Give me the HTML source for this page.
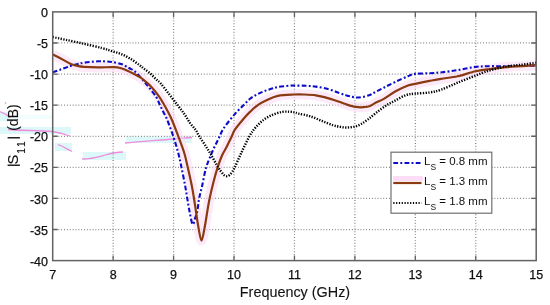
<!DOCTYPE html>
<html><head><meta charset="utf-8"><style>
html,body{margin:0;padding:0;background:#fff;width:550px;height:305px;overflow:hidden}
svg{display:block;filter:blur(0.45px);will-change:transform}
text{font-family:"Liberation Sans",sans-serif;fill:#111;stroke:#111;stroke-width:0.25px}
.ti text,text.tt{stroke-width:0.1px}
.lg text{stroke-width:0.0px}
</style></head><body>
<svg width="550" height="305" viewBox="0 0 550 305">

<g fill="#d4f7f7" opacity="0.8">
<rect x="0" y="112" width="9" height="9"/>
<rect x="9" y="115" width="44" height="4" opacity="0.4"/>
<rect x="0" y="127" width="71" height="7"/>
<rect x="55" y="143" width="17" height="8"/>
<rect x="83" y="152" width="43" height="8"/>
<rect x="126" y="136.5" width="66" height="6.5"/>
</g>
<g fill="none" stroke="#f07ad8" stroke-width="1.3" opacity="0.85">
<path d="M0,111.5 C4,113 7,115 10,117.5"/>
<path d="M8,129.5 C20,131 40,130 52,131.5 C60,132.5 64,134 70,136"/>
<path d="M58,144.5 C62,146 67,149 72,151.5"/>
<path d="M82,159 C92,159 98,157 105,155 C112,153 118,152 123,152"/>
<path d="M125,143 C150,141 170,139 192,137.5"/>
</g>
<circle cx="5.5" cy="103" r="0.8" fill="#f07ad8"/>

<g stroke="#808080" stroke-width="1.25" stroke-dasharray="0.9 1.95" fill="none">
<line x1="113.14" y1="11.90" x2="113.14" y2="260.60"/><line x1="173.58" y1="11.90" x2="173.58" y2="260.60"/><line x1="234.01" y1="11.90" x2="234.01" y2="260.60"/><line x1="294.45" y1="11.90" x2="294.45" y2="260.60"/><line x1="354.89" y1="11.90" x2="354.89" y2="260.60"/><line x1="415.33" y1="11.90" x2="415.33" y2="260.60"/><line x1="475.76" y1="11.90" x2="475.76" y2="260.60"/><line x1="52.70" y1="42.99" x2="536.20" y2="42.99"/><line x1="52.70" y1="74.08" x2="536.20" y2="74.08"/><line x1="52.70" y1="105.16" x2="536.20" y2="105.16"/><line x1="52.70" y1="136.25" x2="536.20" y2="136.25"/><line x1="52.70" y1="167.34" x2="536.20" y2="167.34"/><line x1="52.70" y1="198.43" x2="536.20" y2="198.43"/><line x1="52.70" y1="229.51" x2="536.20" y2="229.51"/>
</g>
<g fill="none" stroke-linejoin="round">
<path d="M52.90,54.60 C54.28,55.28 58.30,57.17 61.20,58.70 C64.10,60.23 67.67,62.62 70.30,63.80 C72.93,64.98 74.72,65.28 77.00,65.80 C79.28,66.32 80.50,66.63 84.00,66.90 C87.50,67.17 93.00,67.37 98.00,67.40 C103.00,67.43 110.13,66.95 114.00,67.10 C117.87,67.25 118.87,67.67 121.20,68.30 C123.53,68.93 125.78,69.92 128.00,70.90 C130.22,71.88 132.38,73.07 134.50,74.20 C136.62,75.33 139.05,76.62 140.70,77.70 C142.35,78.78 142.68,79.23 144.40,80.70 C146.12,82.17 148.52,83.82 151.00,86.50 C153.48,89.18 157.07,93.67 159.30,96.80 C161.53,99.93 162.37,101.60 164.40,105.30 C166.43,109.00 169.20,113.87 171.50,119.00 C173.80,124.13 176.08,130.47 178.20,136.10 C180.32,141.73 182.60,147.57 184.20,152.80 C185.80,158.03 186.53,162.02 187.80,167.50 C189.07,172.98 190.77,180.53 191.80,185.70 C192.83,190.87 193.27,193.95 194.00,198.50 C194.73,203.05 195.50,208.42 196.20,213.00 C196.90,217.58 197.32,221.40 198.20,226.00 C199.08,230.60 200.38,240.60 201.50,240.60 C202.62,240.60 203.95,230.77 204.90,226.00 C205.85,221.23 206.42,216.58 207.20,212.00 C207.98,207.42 208.55,203.50 209.60,198.50 C210.65,193.50 212.15,187.22 213.50,182.00 C214.85,176.78 216.30,171.58 217.70,167.20 C219.10,162.82 220.42,159.08 221.90,155.70 C223.38,152.32 224.97,150.10 226.60,146.90 C228.23,143.70 230.32,139.37 231.70,136.50 C233.08,133.63 232.88,132.70 234.90,129.70 C236.92,126.70 241.28,121.47 243.80,118.50 C246.32,115.53 247.72,114.10 250.00,111.90 C252.28,109.70 254.58,107.32 257.50,105.30 C260.42,103.28 264.08,101.38 267.50,99.80 C270.92,98.22 273.58,96.68 278.00,95.80 C282.42,94.92 289.67,94.72 294.00,94.50 C298.33,94.28 300.35,94.37 304.00,94.50 C307.65,94.63 312.23,94.78 315.90,95.30 C319.57,95.82 322.98,96.82 326.00,97.60 C329.02,98.38 331.33,99.13 334.00,100.00 C336.67,100.87 339.33,101.87 342.00,102.80 C344.67,103.73 347.33,104.87 350.00,105.60 C352.67,106.33 355.73,106.93 358.00,107.20 C360.27,107.47 361.60,107.40 363.60,107.20 C365.60,107.00 367.93,106.77 370.00,106.00 C372.07,105.23 373.70,103.78 376.00,102.60 C378.30,101.42 380.53,100.78 383.80,98.90 C387.07,97.02 391.57,93.53 395.60,91.30 C399.63,89.07 404.73,86.75 408.00,85.50 C411.27,84.25 411.60,84.57 415.20,83.80 C418.80,83.03 425.30,81.73 429.60,80.90 C433.90,80.07 436.32,79.57 441.00,78.80 C445.68,78.03 451.97,77.55 457.70,76.30 C463.43,75.05 470.02,72.52 475.40,71.30 C480.78,70.08 484.90,69.70 490.00,69.00 C495.10,68.30 498.30,67.73 506.00,67.10 C513.70,66.47 531.17,65.52 536.20,65.20" stroke="#fcd8f4" stroke-width="10" opacity="0.55"/>
<path d="M52.70,72.20 C54.12,71.72 58.27,70.32 61.20,69.30 C64.13,68.28 67.67,66.93 70.30,66.10 C72.93,65.27 74.72,64.87 77.00,64.30 C79.28,63.73 80.50,63.20 84.00,62.70 C87.50,62.20 94.33,61.52 98.00,61.30 C101.67,61.08 103.67,61.28 106.00,61.40 C108.33,61.52 109.47,61.57 112.00,62.00 C114.53,62.43 118.37,63.00 121.20,64.00 C124.03,65.00 126.72,66.75 129.00,68.00 C131.28,69.25 132.95,69.92 134.90,71.50 C136.85,73.08 138.85,75.45 140.70,77.50 C142.55,79.55 144.52,82.02 146.00,83.80 C147.48,85.58 147.92,86.03 149.60,88.20 C151.28,90.37 154.35,93.95 156.10,96.80 C157.85,99.65 158.87,102.72 160.10,105.30 C161.33,107.88 162.35,109.95 163.50,112.30 C164.65,114.65 165.38,115.43 167.00,119.40 C168.62,123.37 171.33,130.53 173.20,136.10 C175.07,141.67 176.82,147.57 178.20,152.80 C179.58,158.03 180.37,162.13 181.50,167.50 C182.63,172.87 184.03,179.83 185.00,185.00 C185.97,190.17 186.52,193.95 187.30,198.50 C188.08,203.05 188.82,208.00 189.70,212.30 C190.58,216.60 191.68,223.37 192.60,224.30 C193.52,225.23 194.38,220.28 195.20,217.90 C196.02,215.52 196.85,213.23 197.50,210.00 C198.15,206.77 198.32,202.58 199.10,198.50 C199.88,194.42 201.05,190.58 202.20,185.50 C203.35,180.42 204.55,173.07 206.00,168.00 C207.45,162.93 209.45,158.68 210.90,155.10 C212.35,151.52 213.37,149.35 214.70,146.50 C216.03,143.65 217.55,140.80 218.90,138.00 C220.25,135.20 221.03,132.62 222.80,129.70 C224.57,126.78 227.18,123.45 229.50,120.50 C231.82,117.55 234.37,114.55 236.70,112.00 C239.03,109.45 241.28,107.40 243.50,105.20 C245.72,103.00 247.73,100.60 250.00,98.80 C252.27,97.00 254.73,95.67 257.10,94.40 C259.47,93.13 261.83,92.13 264.20,91.20 C266.57,90.27 269.00,89.50 271.30,88.80 C273.60,88.10 274.92,87.52 278.00,87.00 C281.08,86.48 287.10,85.93 289.80,85.70 C292.50,85.47 291.50,85.58 294.20,85.60 C296.90,85.62 302.38,85.63 306.00,85.80 C309.62,85.97 312.25,86.07 315.90,86.60 C319.55,87.13 324.13,87.98 327.90,89.00 C331.67,90.02 335.40,91.63 338.50,92.70 C341.60,93.77 344.25,94.72 346.50,95.40 C348.75,96.08 350.25,96.45 352.00,96.80 C353.75,97.15 355.20,97.48 357.00,97.50 C358.80,97.52 360.77,97.28 362.80,96.90 C364.83,96.52 367.33,95.88 369.20,95.20 C371.07,94.52 371.57,94.05 374.00,92.80 C376.43,91.55 380.20,89.53 383.80,87.70 C387.40,85.87 391.57,83.72 395.60,81.80 C399.63,79.88 404.73,77.52 408.00,76.20 C411.27,74.88 411.60,74.40 415.20,73.90 C418.80,73.40 425.13,73.47 429.60,73.20 C434.07,72.93 437.32,72.82 442.00,72.30 C446.68,71.78 452.13,71.00 457.70,70.10 C463.27,69.20 470.02,67.55 475.40,66.90 C480.78,66.25 484.90,66.32 490.00,66.20 C495.10,66.08 498.30,66.30 506.00,66.20 C513.70,66.10 531.17,65.70 536.20,65.60" stroke="#0c0cc8" stroke-width="2.1" stroke-dasharray="4.8 2.25 1.9 2.25"/>
<path d="M52.90,54.60 C54.28,55.28 58.30,57.17 61.20,58.70 C64.10,60.23 67.67,62.62 70.30,63.80 C72.93,64.98 74.72,65.28 77.00,65.80 C79.28,66.32 80.50,66.63 84.00,66.90 C87.50,67.17 93.00,67.37 98.00,67.40 C103.00,67.43 110.13,66.95 114.00,67.10 C117.87,67.25 118.87,67.67 121.20,68.30 C123.53,68.93 125.78,69.92 128.00,70.90 C130.22,71.88 132.38,73.07 134.50,74.20 C136.62,75.33 139.05,76.62 140.70,77.70 C142.35,78.78 142.68,79.23 144.40,80.70 C146.12,82.17 148.52,83.82 151.00,86.50 C153.48,89.18 157.07,93.67 159.30,96.80 C161.53,99.93 162.37,101.60 164.40,105.30 C166.43,109.00 169.20,113.87 171.50,119.00 C173.80,124.13 176.08,130.47 178.20,136.10 C180.32,141.73 182.60,147.57 184.20,152.80 C185.80,158.03 186.53,162.02 187.80,167.50 C189.07,172.98 190.77,180.53 191.80,185.70 C192.83,190.87 193.27,193.95 194.00,198.50 C194.73,203.05 195.50,208.42 196.20,213.00 C196.90,217.58 197.32,221.40 198.20,226.00 C199.08,230.60 200.38,240.60 201.50,240.60 C202.62,240.60 203.95,230.77 204.90,226.00 C205.85,221.23 206.42,216.58 207.20,212.00 C207.98,207.42 208.55,203.50 209.60,198.50 C210.65,193.50 212.15,187.22 213.50,182.00 C214.85,176.78 216.30,171.58 217.70,167.20 C219.10,162.82 220.42,159.08 221.90,155.70 C223.38,152.32 224.97,150.10 226.60,146.90 C228.23,143.70 230.32,139.37 231.70,136.50 C233.08,133.63 232.88,132.70 234.90,129.70 C236.92,126.70 241.28,121.47 243.80,118.50 C246.32,115.53 247.72,114.10 250.00,111.90 C252.28,109.70 254.58,107.32 257.50,105.30 C260.42,103.28 264.08,101.38 267.50,99.80 C270.92,98.22 273.58,96.68 278.00,95.80 C282.42,94.92 289.67,94.72 294.00,94.50 C298.33,94.28 300.35,94.37 304.00,94.50 C307.65,94.63 312.23,94.78 315.90,95.30 C319.57,95.82 322.98,96.82 326.00,97.60 C329.02,98.38 331.33,99.13 334.00,100.00 C336.67,100.87 339.33,101.87 342.00,102.80 C344.67,103.73 347.33,104.87 350.00,105.60 C352.67,106.33 355.73,106.93 358.00,107.20 C360.27,107.47 361.60,107.40 363.60,107.20 C365.60,107.00 367.93,106.77 370.00,106.00 C372.07,105.23 373.70,103.78 376.00,102.60 C378.30,101.42 380.53,100.78 383.80,98.90 C387.07,97.02 391.57,93.53 395.60,91.30 C399.63,89.07 404.73,86.75 408.00,85.50 C411.27,84.25 411.60,84.57 415.20,83.80 C418.80,83.03 425.30,81.73 429.60,80.90 C433.90,80.07 436.32,79.57 441.00,78.80 C445.68,78.03 451.97,77.55 457.70,76.30 C463.43,75.05 470.02,72.52 475.40,71.30 C480.78,70.08 484.90,69.70 490.00,69.00 C495.10,68.30 498.30,67.73 506.00,67.10 C513.70,66.47 531.17,65.52 536.20,65.20" stroke="#8a3a10" stroke-width="2.2"/>
<path d="M52.70,37.00 C54.92,37.48 60.78,38.77 66.00,39.90 C71.22,41.03 78.00,42.43 84.00,43.80 C90.00,45.17 97.33,46.87 102.00,48.10 C106.67,49.33 108.80,50.20 112.00,51.20 C115.20,52.20 118.15,52.85 121.20,54.10 C124.25,55.35 127.28,56.88 130.30,58.70 C133.32,60.52 137.02,63.32 139.30,65.00 C141.58,66.68 142.22,67.43 144.00,68.80 C145.78,70.17 148.03,71.50 150.00,73.20 C151.97,74.90 154.02,77.28 155.80,79.00 C157.58,80.72 158.50,81.00 160.70,83.50 C162.90,86.00 166.18,90.38 169.00,94.00 C171.82,97.62 175.05,101.87 177.60,105.20 C180.15,108.53 182.25,111.05 184.30,114.00 C186.35,116.95 188.03,120.28 189.90,122.90 C191.77,125.52 193.92,127.43 195.50,129.70 C197.08,131.97 197.82,133.95 199.40,136.50 C200.98,139.05 203.08,142.00 205.00,145.00 C206.92,148.00 208.72,150.78 210.90,154.50 C213.08,158.22 216.33,164.38 218.10,167.30 C219.87,170.22 220.47,170.68 221.50,172.00 C222.53,173.32 223.42,174.50 224.30,175.20 C225.18,175.90 225.97,176.20 226.80,176.20 C227.63,176.20 228.43,175.87 229.30,175.20 C230.17,174.53 231.08,173.52 232.00,172.20 C232.92,170.88 233.30,170.42 234.80,167.30 C236.30,164.18 238.58,158.63 241.00,153.50 C243.42,148.37 246.88,140.83 249.30,136.50 C251.72,132.17 253.08,130.30 255.50,127.50 C257.92,124.70 260.90,121.83 263.80,119.70 C266.70,117.57 269.85,116.00 272.90,114.70 C275.95,113.40 279.35,112.40 282.10,111.90 C284.85,111.40 287.30,111.62 289.40,111.70 C291.50,111.78 293.17,112.08 294.70,112.40 C296.23,112.72 296.07,112.97 298.60,113.60 C301.13,114.23 306.02,114.98 309.90,116.20 C313.78,117.42 318.05,119.40 321.90,120.90 C325.75,122.40 329.90,124.20 333.00,125.20 C336.10,126.20 338.12,126.52 340.50,126.90 C342.88,127.28 344.95,127.55 347.30,127.50 C349.65,127.45 352.32,127.17 354.60,126.60 C356.88,126.03 358.77,125.30 361.00,124.10 C363.23,122.90 365.53,121.23 368.00,119.40 C370.47,117.57 372.85,115.37 375.80,113.10 C378.75,110.83 382.42,107.92 385.70,105.80 C388.98,103.68 392.12,102.18 395.50,100.40 C398.88,98.62 402.72,96.23 406.00,95.10 C409.28,93.97 411.27,94.03 415.20,93.60 C419.13,93.17 425.30,93.15 429.60,92.50 C433.90,91.85 436.32,91.33 441.00,89.70 C445.68,88.07 451.97,85.03 457.70,82.70 C463.43,80.37 471.15,77.38 475.40,75.70 C479.65,74.02 480.77,73.50 483.20,72.60 C485.63,71.70 486.20,71.32 490.00,70.30 C493.80,69.28 500.67,67.43 506.00,66.50 C511.33,65.57 516.97,65.32 522.00,64.70 C527.03,64.08 533.83,63.12 536.20,62.80" stroke="#000" stroke-width="2.4" stroke-dasharray="1.3 1.42"/>
</g>
<rect x="52.70" y="11.90" width="483.50" height="248.70" fill="none" stroke="#626262" stroke-width="1.5"/>
<path d="M113.14,260.60V255.60M113.14,11.90V16.90M173.58,260.60V255.60M173.58,11.90V16.90M234.01,260.60V255.60M234.01,11.90V16.90M294.45,260.60V255.60M294.45,11.90V16.90M354.89,260.60V255.60M354.89,11.90V16.90M415.33,260.60V255.60M415.33,11.90V16.90M475.76,260.60V255.60M475.76,11.90V16.90M52.70,42.99H57.70M536.20,42.99H531.20M52.70,74.08H57.70M536.20,74.08H531.20M52.70,105.16H57.70M536.20,105.16H531.20M52.70,136.25H57.70M536.20,136.25H531.20M52.70,167.34H57.70M536.20,167.34H531.20M52.70,198.43H57.70M536.20,198.43H531.20M52.70,229.51H57.70M536.20,229.51H531.20" stroke="#626262" stroke-width="1.3" fill="none"/>
<g font-size="12.5px">
<text x="52.70" y="278.5" text-anchor="middle">7</text><text x="113.14" y="278.5" text-anchor="middle">8</text><text x="173.58" y="278.5" text-anchor="middle">9</text><text x="234.01" y="278.5" text-anchor="middle">10</text><text x="294.45" y="278.5" text-anchor="middle">11</text><text x="354.89" y="278.5" text-anchor="middle">12</text><text x="415.33" y="278.5" text-anchor="middle">13</text><text x="475.76" y="278.5" text-anchor="middle">14</text><text x="536.20" y="278.5" text-anchor="middle">15</text>
<text x="48" y="17.00" text-anchor="end">0</text><text x="48" y="48.09" text-anchor="end">-5</text><text x="48" y="79.17" text-anchor="end">-10</text><text x="48" y="110.26" text-anchor="end">-15</text><text x="48" y="141.35" text-anchor="end">-20</text><text x="48" y="172.44" text-anchor="end">-25</text><text x="48" y="203.53" text-anchor="end">-30</text><text x="48" y="234.61" text-anchor="end">-35</text><text x="48" y="265.70" text-anchor="end">-40</text>
</g>
<text x="295" y="296.8" font-size="14.4px" text-anchor="middle" class="tt">Frequency (GHz)</text>
<g class="ti" transform="translate(18,0) rotate(-90)" font-size="14.4px">

<text x="-164.4" y="0" font-size="14.8px">S</text>
<text x="-153.7" y="6.5" font-size="10px" letter-spacing="1.8px">11</text>

<text x="-130.8" y="0" font-size="14px">(dB)</text>
</g>
<path d="M7.6,165.3H19.9M7.6,137.8H19.9" stroke="#222" stroke-width="1.4"/>
<rect x="391" y="152.2" width="100.80000000000001" height="61.0" fill="#fff" stroke="#707070" stroke-width="1.2"/>
<rect x="393" y="176" width="30" height="5" fill="#fcdcf6"/>
<g fill="none">
<line x1="393.3" x2="421.5" y1="163" y2="163" stroke="#0c0cc8" stroke-width="2.1" stroke-dasharray="4.8 2.25 1.9 2.25"/>
<line x1="393.3" x2="421.5" y1="183" y2="183" stroke="#8a3a10" stroke-width="2.2"/>
<line x1="393.3" x2="421.5" y1="203" y2="203" stroke="#000" stroke-width="2.2" stroke-dasharray="1.2 1.6"/>
</g>
<g class="lg" font-size="11.5px">
<text x="424" y="164.5">L<tspan font-size="8.5px" dy="5.5">S</tspan><tspan dy="-5.5"> = 0.8 mm</tspan></text>
<text x="424" y="184.5">L<tspan font-size="8.5px" dy="5.5">S</tspan><tspan dy="-5.5"> = 1.3 mm</tspan></text>
<text x="424" y="204.5">L<tspan font-size="8.5px" dy="5.5">S</tspan><tspan dy="-5.5"> = 1.8 mm</tspan></text>
</g>
</svg>
</body></html>
